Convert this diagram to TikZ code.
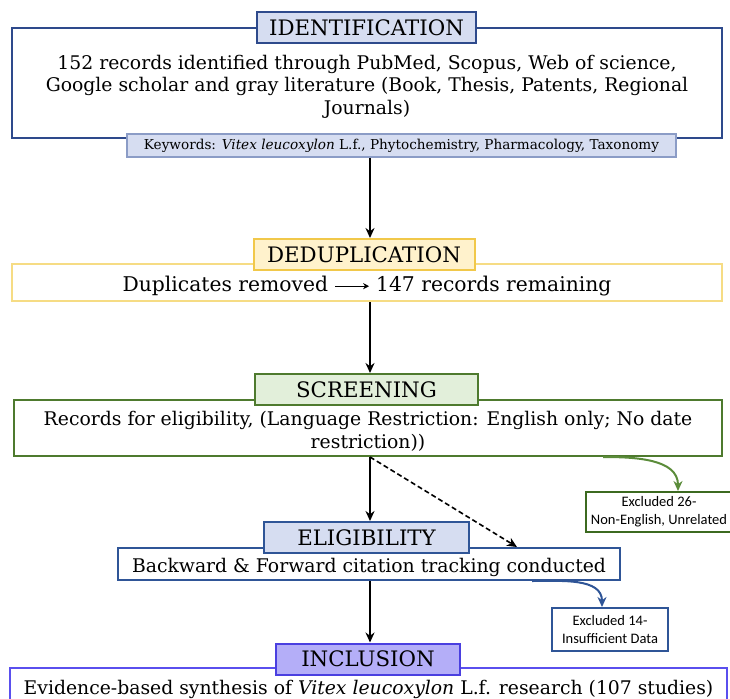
\documentclass[tikz,border=0pt]{standalone}
\usepackage{fontspec}
\setmainfont{DejaVu Serif}
\newfontfamily\calfont{Carlito}
\usetikzlibrary{arrows.meta}
\definecolor{idblue}{HTML}{2E4A8C}
\definecolor{idfill}{HTML}{D6DDF1}
\definecolor{kwborder}{HTML}{8B9CC6}
\definecolor{dedborder}{HTML}{F6DC84}
\definecolor{dedtborder}{HTML}{F1C84A}
\definecolor{dedfill}{HTML}{FFF2CC}
\definecolor{scrgreen}{HTML}{4E7A2E}
\definecolor{scrfill}{HTML}{E2EFDA}
\definecolor{exgreen}{HTML}{3C6A20}
\definecolor{arrgreen}{HTML}{5B8C3A}
\definecolor{elblue}{HTML}{2F5597}
\definecolor{inviolet}{HTML}{5A4FEE}
\definecolor{intborder}{HTML}{4A3FE0}
\definecolor{infill}{HTML}{B4AEF8}
\newcommand\mybody{\fontsize{18.8}{22.5}\selectfont}
\newcommand\mytitle{\fontsize{21.3}{24}\selectfont}
\newcommand\mykw{\fontsize{13.6}{16}\selectfont}
\newcommand\mysmall{\calfont\fontsize{14.5}{18}\selectfont}
\tikzset{
  outerbox/.style={draw, line width=2pt, inner sep=0pt},
  bodytext/.style={inner sep=0pt, align=center, font=\mybody, yshift=-3.5pt},
  titlebox/.style={draw, line width=2pt, inner sep=0pt, minimum height=31pt, font=\mytitle},
  exbox/.style={draw, line width=2pt, inner sep=0pt, align=center, font=\mysmall},
  flow/.style={-{Stealth[length=10pt,width=9pt]}, line width=2.3pt, black},
  curv/.style={-{Stealth[length=10pt,width=9pt]}, line width=2pt}
}
\begin{document}
\begin{tikzpicture}[x=1pt,y=-1pt]
\useasboundingbox (0,0) rectangle (730,698);
% IDENTIFICATION
\node[outerbox, draw=idblue, minimum width=710pt, minimum height=110pt] (idb) at (367,83) {};
\node[bodytext] (idtx) at (idb.center)
  {152 records identified through PubMed, Scopus, Web of science,\\
   Google scholar and gray literature (Book, Thesis, Patents, Regional\\
   Journals)};
\node[titlebox, draw=idblue, fill=idfill, minimum width=219pt] (idt) at (366.5,28) {IDENTIFICATION};
\node[draw=kwborder, line width=1.4pt, fill=idfill, minimum width=549pt, minimum height=23pt, inner sep=0pt, font=\mykw] (kw) at (401.5,145.5)
  {Keywords: \textit{Vitex leucoxylon} L.f., Phytochemistry, Pharmacology, Taxonomy};
% DEDUPLICATION
\node[outerbox, draw=dedborder, minimum width=710pt, minimum height=37pt] (ded) at (367,282.5) {};
\node[bodytext, font=\fontsize{20.3}{22.5}\selectfont] (dedtx) at (ded.center)
  {Duplicates removed \raisebox{0.5ex}{\tikz[baseline]\draw[-{Stealth[length=6pt,width=6pt]}, line width=1.2pt] (0,0) -- (34pt,0);} 147 records remaining};
\node[titlebox, draw=dedtborder, fill=dedfill, minimum width=221pt] (dedt) at (364,254.5) {DEDUPLICATION};
% SCREENING
\node[outerbox, draw=scrgreen, minimum width=708pt, minimum height=56pt] (scr) at (368,428) {};
\node[bodytext] (scrtx) at (scr.center)
  {Records for eligibility, (Language Restriction: English only; No date\\ restriction))};
\node[titlebox, draw=scrgreen, fill=scrfill, minimum width=223pt] (scrt) at (366.5,389.5) {SCREENING};
\node[exbox, draw=exgreen, minimum width=146pt, minimum height=40pt] (ex26) at (659,512)
  {Excluded 26-\\Non-English, Unrelated};
% ELIGIBILITY
\node[outerbox, draw=elblue, minimum width=502pt, minimum height=32pt] (el) at (369,564) {};
\node[bodytext] (eltx) at (el.center) {Backward \& Forward citation tracking conducted};
\node[titlebox, draw=elblue, fill=idfill, minimum width=205pt] (elt) at (366.5,537.5) {ELIGIBILITY};
\node[exbox, draw=elblue, minimum width=116pt, minimum height=43pt] (ex14) at (610,629.5)
  {Excluded 14-\\Insufficient Data};
% INCLUSION
\node[outerbox, draw=inviolet, minimum width=717pt, minimum height=40pt] (inc) at (368.5,688) {};
\node[bodytext, yshift=2.5pt] (inctx) at (inc.center)
  {Evidence-based synthesis of \textit{Vitex leucoxylon} L.f. research (107 studies)};
\node[titlebox, draw=intborder, fill=infill, minimum width=184pt] (inct) at (368,659) {INCLUSION};
% connectors
\coordinate (ax) at (370,0);
\draw[flow] (kw.south -| ax) -- (dedt.north -| ax);
\draw[flow] (ded.south -| ax) -- (scrt.north -| ax);
\draw[flow] (scr.south -| ax) -- (elt.north -| ax);
\draw[flow, dashed, line width=1.6pt, dash pattern=on 5pt off 3pt] (scr.south -| ax) -- ([xshift=148pt]el.north);
\draw[flow] (el.south -| ax) -- (inct.north -| ax);
\draw[curv, arrgreen] ([xshift=235pt]scr.south) to[out=0, in=90] ([xshift=19pt]ex26.north);
\draw[curv, elblue] ([xshift=163pt]el.south) to[out=0, in=90] ([xshift=-8pt]ex14.north);
\end{tikzpicture}
\end{document}
